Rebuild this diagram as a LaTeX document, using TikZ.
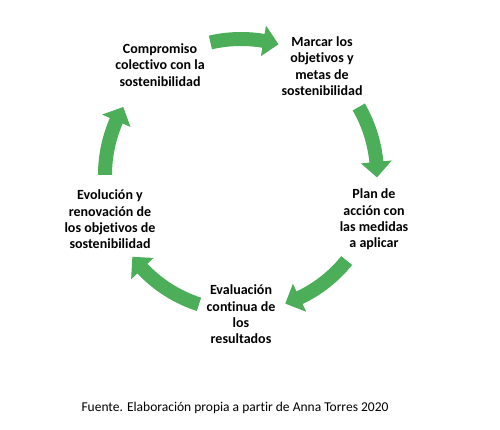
\documentclass[tikz,border=0pt]{standalone}
\usepackage{fontspec}
\setmainfont[Ligatures=NoCommon]{Carlito}
\definecolor{arrowgreen}{RGB}{76,174,88}
\newcommand{\cyclearrow}[2]{%
  \fill[arrowgreen] ({#1}:{\R+\W}) arc[start angle={#1}, end angle={#2+\HD}, radius={\R+\W}]
    -- ({#2+\HD}:{\R+\H}) -- ({#2}:{\R}) -- ({#2+\HD}:{\R-\H}) -- ({#2+\HD}:{\R-\W})
    arc[start angle={#2+\HD}, end angle={#1}, radius={\R-\W}] -- cycle;}
\begin{document}
\begin{tikzpicture}[x=1pt,y=1pt,
  steptext/.style={font=\bfseries\fontsize{14}{16.3}\selectfont, align=center, inner sep=0pt, text=black},
  captiontext/.style={font=\fontsize{13.5}{15}\selectfont, inner sep=0pt}]
\useasboundingbox (0,0) rectangle (500,430);
\fill[white] (0,0) rectangle (500,430);
\def\R{136}\def\W{7}\def\H{15.5}\def\HD{6.5}
\begin{scope}[shift={(241,255)}]
  \cyclearrow{103}{74}
  \cyclearrow{30}{-1}
  \cyclearrow{-39}{-71}
  \cyclearrow{-108}{-143}
  \cyclearrow{180}{150}
\end{scope}
\node[steptext] (compromiso) at (160,365) {Compromiso\\colectivo con la\\sostenibilidad};
\node[steptext] (marcar) at (322,364) {Marcar los\\objetivos y\\metas de\\sostenibilidad};
\node[steptext] (plan) at (374,210.5) {Plan de\\acción con\\las medidas\\a aplicar};
\node[steptext] (evaluacion) at (241,115.5) {Evaluación\\continua de\\los\\resultados};
\node[steptext] (evolucion) at (110,210.5) {Evolución y\\renovación de\\los objetivos de\\sostenibilidad};
\node[captiontext] (fuente) at (235,22) {Fuente. Elaboración propia a partir de Anna Torres 2020};
\end{tikzpicture}
\end{document}
